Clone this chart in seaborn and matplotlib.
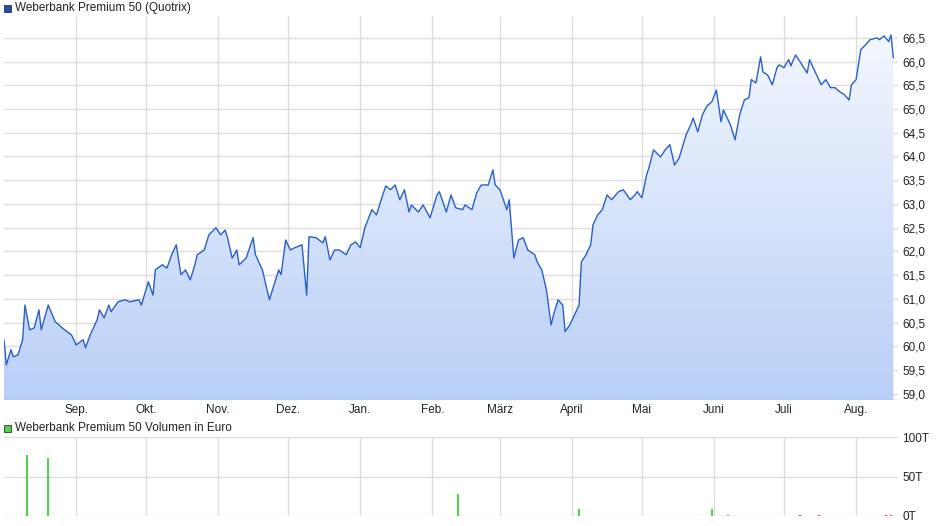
import numpy as np
import pandas as pd
import matplotlib
matplotlib.use("Agg")
import matplotlib.pyplot as plt
import seaborn as sns
from matplotlib.patches import Rectangle

start = pd.Timestamp("2023-08-01")
day_offsets = [0,1,3,4,6,8,9,11,13,15,16,19,22,26,29,31,34,35,37,40,41,43,45,46,49,52,54,58,59,62,64,65,68,70,72,74,76,78,80,82,83,86,88,91,93,95,96,98,100,101,104,107,108,111,113,114,116,118,119,121,123,125,128,130,131,134,137,138,140,142,144,147,149,151,153,155,158,160,162,164,166,168,170,172,174,175,178,180,183,186,187,190,192,194,197,198,201,203,205,208,210,211,213,216,217,219,221,223,225,228,229,231,233,235,236,238,240,241,243,245,247,248,250,252,253,255,257,259,261,264,266,269,271,272,274,276,277,279,282,284,286,288,290,293,295,296,298,300,302,304,306,308,309,312,314,316,318,320,321,323,325,326,328,330,332,333,335,337,338,340,342,345,346,349,351,353,355,357,358,361,363,364,366,368,370,372,375,376,378,380,381,382]
prices = [60.14,59.61,59.93,59.78,59.82,60.14,60.87,60.35,60.39,60.77,60.35,60.87,60.52,60.35,60.24,60.03,60.14,59.97,60.24,60.56,60.77,60.60,60.87,60.73,60.94,60.98,60.94,60.98,60.87,61.36,61.08,61.61,61.72,61.65,61.93,62.14,61.51,61.61,61.40,61.72,61.93,62.03,62.35,62.50,62.35,62.45,62.29,61.86,62.03,61.72,61.86,62.29,61.93,61.61,61.19,60.98,61.30,61.61,61.51,62.24,62.03,62.08,62.14,61.08,62.31,62.29,62.18,62.31,61.82,62.03,62.03,61.93,62.14,62.20,62.08,62.50,62.88,62.77,63.09,63.38,63.30,63.40,63.09,63.30,62.83,62.98,62.83,62.98,62.71,63.19,63.26,62.83,63.19,62.92,62.88,62.98,62.88,63.23,63.40,63.40,63.72,63.40,63.30,62.88,63.09,61.86,62.24,62.29,62.03,61.93,61.78,61.61,61.19,60.45,60.66,60.98,60.87,60.31,60.45,60.66,60.87,61.78,61.93,62.14,62.56,62.77,62.88,63.19,63.09,63.26,63.30,63.09,63.19,63.26,63.13,63.61,63.76,64.14,63.99,64.14,64.25,63.82,63.97,64.46,64.67,64.81,64.52,64.88,65.07,65.15,65.40,64.73,64.98,64.67,64.35,64.88,65.19,65.24,65.62,65.55,66.10,65.78,65.72,65.51,65.87,65.93,65.87,66.04,65.91,66.14,65.99,65.76,66.04,65.72,65.51,65.62,65.45,65.45,65.40,65.30,65.19,65.51,65.62,66.25,66.35,66.46,66.50,66.46,66.54,66.42,66.56,66.08]
vol_days = [10,19,195,247,304,311,342,350,379,381]
vol_values = [77,73,28,9,9,1.5,1.5,1.5,1,1]
vol_up = [True,True,True,True,True,True,False,False,False,False]
month_labels = ["Sep.","Okt.","Nov.","Dez.","Jan.","Feb.","März","April","Mai","Juni","Juli","Aug."]
month_starts = pd.date_range("2023-09-01", periods=12, freq="MS")
y_ticks = np.arange(59.0, 66.51, 0.5)

n = min(len(day_offsets), len(prices))
df = pd.DataFrame({"date": start + pd.to_timedelta(day_offsets[:n], unit="D"), "price": prices[:n]})
vdf = pd.DataFrame({"date": start + pd.to_timedelta(vol_days, unit="D"), "vol": vol_values, "up": vol_up})

sns.set_theme(style="white")
plt.rcParams["font.family"] = ["Liberation Sans", "DejaVu Sans"]
fig = plt.figure(figsize=(9.4, 5.26), dpi=100)
W, H = 940, 526
ax = fig.add_axes([4/W, 1-400/H, 894/W, 384/H])
ax2 = fig.add_axes([4/W, 1-516/H, 894/W, 79/H])
xmin, xmax = start, start + pd.Timedelta(days=384)
ymin, ymax = 58.87, 66.96

grid_c = "#dddddd"
for a in (ax, ax2):
    a.set_xlim(xmin, xmax)
    for s in a.spines.values():
        s.set_visible(False)
    for m in month_starts:
        a.axvline(m, color=grid_c, lw=1, zorder=0)
    a.yaxis.tick_right()
    a.tick_params(length=0, labelsize=8.5, colors="#222222", pad=3)

ax.set_ylim(ymin, ymax)
for t in y_ticks:
    ax.axhline(t, color=grid_c, lw=1, zorder=0)
ax.set_yticks(y_ticks)
ax.set_yticklabels([f"{t:.1f}".replace(".", ",") for t in y_ticks])
ax.set_xticks(month_starts)
ax.set_xticklabels(month_labels)

fill = ax.fill_between(df["date"], df["price"], ymin, color="none", lw=0)
grad = np.linspace(0, 1, 256).reshape(-1, 1)
from matplotlib.colors import LinearSegmentedColormap
cmap = LinearSegmentedColormap.from_list("g", ["#b8cff7", "#f3f7fe"])
xnum = matplotlib.dates.date2num([xmin, xmax])
im = ax.imshow(grad, aspect="auto", cmap=cmap, origin="lower",
               extent=[xnum[0], xnum[1], ymin, df["price"].max()], zorder=1)
im.set_clip_path(fill.get_paths()[0], transform=ax.transData)
sns.lineplot(data=df, x="date", y="price", ax=ax, color="#2a5fc9", lw=1, zorder=3)
ax.set_xlabel(""); ax.set_ylabel("")
ax.axhline(ymin, color="#aaaaaa", lw=1)

ax2.set_ylim(0, 100)
for t in (0, 50, 100):
    ax2.axhline(t, color=grid_c, lw=1, zorder=0)
ax2.set_yticks([0, 50, 100])
ax2.set_yticklabels(["0T", "50T", "100T"])
ax2.set_xticks([])
for d, v, u in zip(vdf["date"], vdf["vol"], vdf["up"]):
    ax2.vlines(d, 0, v, color="#55d04c" if u else "#e04040", lw=1.5, zorder=3)

for (yy, col, txt) in [(8, "#1a4fb8", "Weberbank Premium 50 (Quotrix)"),
                       (428, "#55d04c", "Weberbank Premium 50 Volumen in Euro")]:
    fig.patches.append(Rectangle((4/W, 1-(yy+4)/H), 7/W, 7/H, transform=fig.transFigure,
                                 facecolor=col, edgecolor="#333333", lw=0.6))
    fig.text(15/W, 1-yy/H, txt, fontsize=8.5, va="center", ha="left", color="#222222")

fig.savefig("out.png", dpi=100, facecolor="white")
